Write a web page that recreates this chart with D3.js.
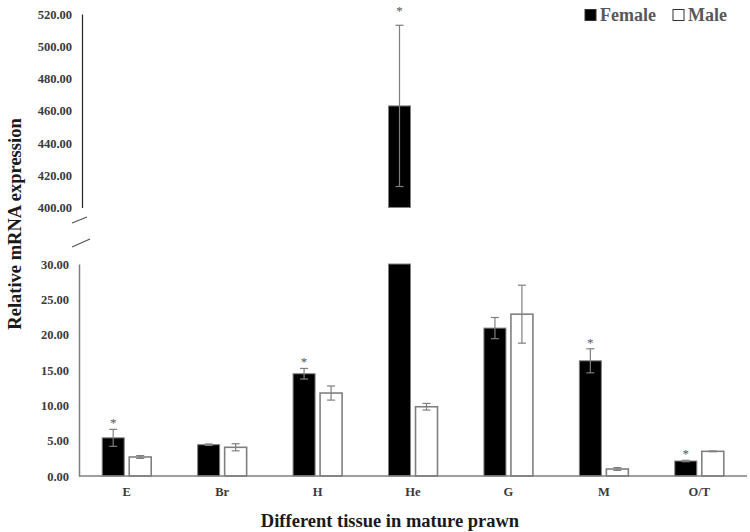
<!DOCTYPE html>
<html>
<head>
<meta charset="utf-8">
<script src="https://cdn.jsdelivr.net/npm/d3@7"></script>
<style>
  body { margin: 0; background: #fff; }
  svg { display: block; font-family: "Liberation Serif", "Times New Roman", serif; }
  .tick text { font-family: "Liberation Serif", "Times New Roman", serif; font-size: 12.5px; font-weight: bold; fill: #3a3a3a; }
</style>
</head>
<body>
<svg id="svg" width="750" height="532"></svg>
<script>
const tissues = ["E", "Br", "H", "He", "G", "M", "O/T"];
const female = [5.4, 4.43, 14.47, 463, 20.93, 16.3, 2.12];
const femaleErr = [1.2, 0.1, 0.75, 50, 1.5, 1.7, 0.1];
const male = [2.69, 4.06, 11.74, 9.8, 22.9, 0.99, 3.49];
const maleErr = [0.2, 0.5, 1.0, 0.47, 4.1, 0.2, 0.05];
const femaleSig = [true, false, true, true, false, true, true];
const lowTicks = [0, 5, 10, 15, 20, 25, 30];
const highTicks = [400, 420, 440, 460, 480, 500, 520];

const svg = d3.select("#svg");
const fmt = d3.format(".2f");

const x = d3.scaleBand().domain(tissues).range([79, 747]);
const sub = d3.scaleBand().domain(["female", "male"]).range([-24.5, 24.5]).paddingInner(5 / 27);
const yLow = d3.scaleLinear().domain([0, 30]).range([476, 264]);
const yHigh = d3.scaleLinear().domain([400, 520]).range([207.5, 14]);

// rows: one per bar
const rows = [];
tissues.forEach((t, i) => {
  rows.push({ t, sex: "female", v: female[i], e: femaleErr[i], sig: femaleSig[i] });
  rows.push({ t, sex: "male", v: male[i], e: maleErr[i], sig: false });
});
const bx = d => x(d.t) + x.bandwidth() / 2 + sub(d.sex);
const cx = d => bx(d) + sub.bandwidth() / 2;

// axes
const axLow = svg.append("g").attr("transform", "translate(79,0)")
  .call(d3.axisLeft(yLow).tickValues(lowTicks).tickFormat(fmt).tickSize(0).tickPadding(10));
axLow.select(".domain").attr("stroke", "#7f7f7f").attr("stroke-width", 1.5);
const axHigh = svg.append("g").attr("transform", "translate(82,0)")
  .call(d3.axisLeft(yHigh).tickValues(highTicks).tickFormat(fmt).tickSize(0).tickPadding(10));
axHigh.select(".domain").attr("stroke", "#222").attr("stroke-width", 1.2);

// break marks
svg.append("g").attr("stroke", "#555").attr("stroke-width", 1.2)
  .selectAll("line").data([[72, 223, 87, 217], [72, 247, 90, 239]]).enter().append("line")
  .attr("x1", d => d[0]).attr("y1", d => d[1]).attr("x2", d => d[2]).attr("y2", d => d[3]);

// lower panel bars
svg.append("g").selectAll("rect").data(rows).enter().append("rect")
  .attr("x", bx)
  .attr("width", sub.bandwidth())
  .attr("y", d => yLow(Math.min(d.v, 30)))
  .attr("height", d => yLow(0) - yLow(Math.min(d.v, 30)))
  .attr("fill", d => d.sex === "female" ? "#000" : "#fff")
  .attr("stroke", "#808080")
  .attr("stroke-width", d => d.sex === "female" ? 1 : 1.6);

// upper panel bars
const tall = rows.filter(d => d.v > 400);
svg.append("g").selectAll("rect").data(tall).enter().append("rect")
  .attr("x", bx)
  .attr("width", sub.bandwidth())
  .attr("y", d => yHigh(d.v))
  .attr("height", d => yHigh(400) - yHigh(d.v))
  .attr("fill", "#000")
  .attr("stroke", "#808080")
  .attr("stroke-width", 1);

// error bars
const yOf = d => d.v > 400 ? yHigh : yLow;
const eb = svg.append("g").attr("stroke", "#7f7f7f").attr("stroke-width", 1.2);
rows.forEach(d => {
  const y = yOf(d);
  const top = y(d.v + d.e), bot = y(d.v - d.e);
  eb.append("line").attr("x1", cx(d)).attr("x2", cx(d)).attr("y1", top).attr("y2", bot);
  eb.append("line").attr("x1", cx(d) - 4).attr("x2", cx(d) + 4).attr("y1", top).attr("y2", top);
  eb.append("line").attr("x1", cx(d) - 4).attr("x2", cx(d) + 4).attr("y1", bot).attr("y2", bot);
});

// significance stars
svg.append("g").selectAll("text").data(rows.filter(d => d.sig)).enter().append("text")
  .attr("x", cx)
  .attr("y", d => yOf(d)(d.v + d.e) - (d.v > 400 ? 10 : 2))
  .attr("text-anchor", "middle")
  .attr("font-size", 13)
  .attr("fill", "#555")
  .text("*");

// x axis
svg.append("line").attr("x1", 79).attr("x2", 747).attr("y1", yLow(0)).attr("y2", yLow(0))
  .attr("stroke", "#7f7f7f").attr("stroke-width", 1.5);
svg.append("g").selectAll("text").data(tissues).enter().append("text")
  .attr("x", d => x(d) + x.bandwidth() / 2)
  .attr("y", 496)
  .attr("text-anchor", "middle")
  .attr("font-size", 12.5).attr("font-weight", "bold").attr("fill", "#3a3a3a")
  .text(d => d);

// titles
svg.append("text").attr("x", 390).attr("y", 527).attr("text-anchor", "middle")
  .attr("font-size", 18.5).attr("font-weight", "bold").attr("fill", "#1a1a1a")
  .text("Different tissue in mature prawn");
svg.append("text").attr("transform", "translate(21,224) rotate(-90)").attr("text-anchor", "middle")
  .attr("font-size", 18.5).attr("font-weight", "bold").attr("fill", "#1a1a1a")
  .text("Relative mRNA expression");

// legend
const legend = svg.append("g");
[["Female", "#000", 585], ["Male", "#fff", 673]].forEach(([name, fill, lx]) => {
  legend.append("rect").attr("x", lx).attr("y", 9.5).attr("width", 11).attr("height", 11)
    .attr("fill", fill).attr("stroke", "#333").attr("stroke-width", 1);
  legend.append("text").attr("x", lx + 15).attr("y", 20.5)
    .attr("font-size", 18).attr("font-weight", "bold").attr("fill", "#595959")
    .text(name);
});
</script>
</body>
</html>
